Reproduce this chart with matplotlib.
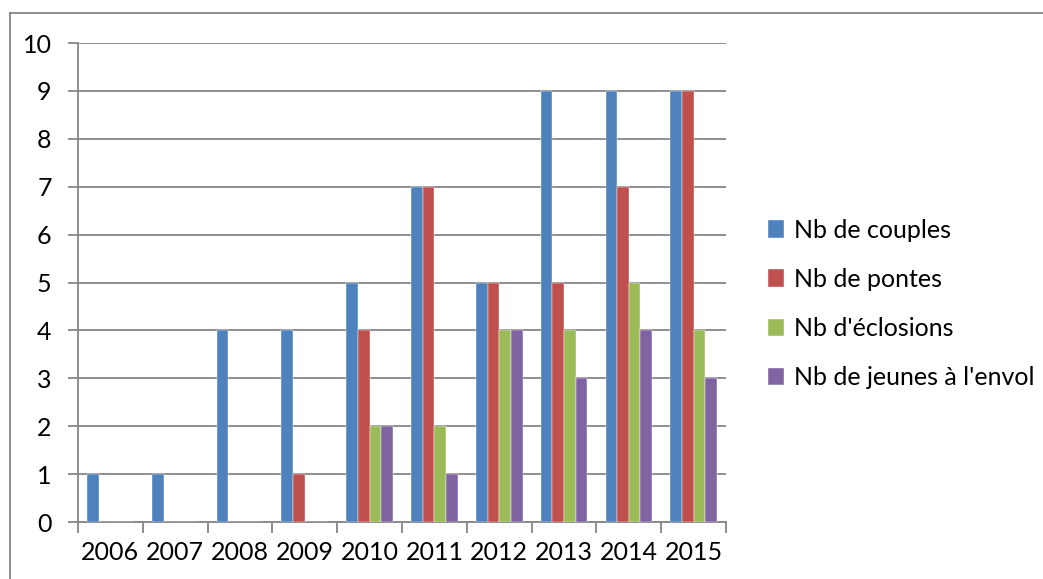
import matplotlib.pyplot as plt
from matplotlib.lines import Line2D
import numpy as np

plt.rcParams['font.family'] = ['Lato', 'DejaVu Sans']

years = ['2006', '2007', '2008', '2009', '2010', '2011', '2012', '2013', '2014', '2015']
couples = [1, 1, 4, 4, 5, 7, 5, 9, 9, 9]
pontes = [0, 0, 0, 1, 4, 7, 5, 5, 7, 9]
eclosions = [0, 0, 0, 0, 2, 2, 4, 4, 5, 4]
envol = [0, 0, 0, 0, 2, 1, 4, 3, 4, 3]

series = [
    ('Nb de couples', couples, '#4F81BD'),
    ('Nb de pontes', pontes, '#C0504D'),
    ("Nb d'éclosions", eclosions, '#9BBB59'),
    ("Nb de jeunes à l'envol", envol, '#8064A2'),
]

fig = plt.figure(figsize=(10.43, 5.79), dpi=100)
ax = fig.add_axes([0.0748, 0.0984, 0.6213, 0.8273])

x = np.arange(len(years))
w = 0.18
for i, (name, vals, clr) in enumerate(series):
    ax.bar(x + (i - 1.5) * w, vals, w, color=clr, label=name, zorder=3,
           edgecolor='white', linewidth=0.3)

ax.set_xlim(-0.5, len(years) - 0.5)
ax.set_ylim(0, 10)
ax.set_yticks(range(0, 11))
ax.set_xticks(x)
ax.set_xticklabels(years)
ax.set_xticks(np.arange(-0.5, len(years)), minor=True)
ax.tick_params(axis='x', which='major', length=0, pad=14, labelsize=18)
ax.tick_params(axis='x', which='minor', length=8, color='#868686', width=1.3)
ax.tick_params(axis='y', length=7, color='#868686', width=1.3, labelsize=18, pad=12)

ax.grid(axis='y', color='#868686', linewidth=1.3, zorder=0)
for s in ['top', 'right']:
    ax.spines[s].set_visible(False)
for s in ['left', 'bottom']:
    ax.spines[s].set_color('#868686')
    ax.spines[s].set_linewidth(1.3)

leg = ax.legend(loc='center left', bbox_to_anchor=(1.065, 0.455), frameon=False,
                fontsize=18, handlelength=0.65, handleheight=0.7, handletextpad=0.4,
                labelspacing=1.05, borderaxespad=0, borderpad=0)

# outer chart border (top and left visible)
fig.add_artist(Line2D([10 / 1043, 1], [1 - 13 / 579, 1 - 13 / 579], color='#868686', linewidth=1.3))
fig.add_artist(Line2D([10 / 1043, 10 / 1043], [0, 1 - 13 / 579], color='#868686', linewidth=1.3))

fig.savefig('out.png', dpi=100)
